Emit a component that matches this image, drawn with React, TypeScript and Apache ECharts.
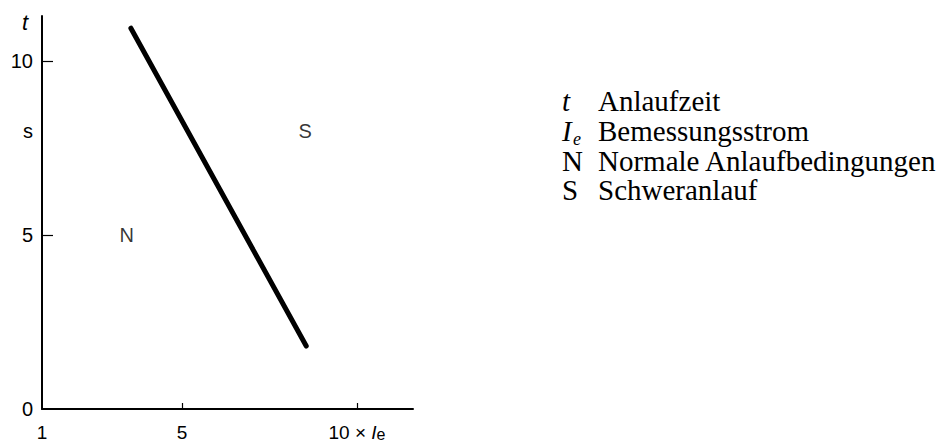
import React, { useEffect, useRef } from "react";
import * as echarts from "echarts";

// Current multiple (x × Ie) and start-up time t (s) of the boundary line
const boundaryCurrent = [3.54, 8.55];
const boundaryTime = [10.95, 1.81];

// Region markers
const regionNames = ["N", "S"];
const regionCurrent = [3.42, 8.52];
const regionTime = [5.0, 8.0];

// Axis tick values and labels
const xTickValues = [5, 10];
const xLabelValues = [1, 5, 10];
const yTickValues = [5, 10];
const yLabelValues = [0, 5, 8, 10];
const yUnitValue = 8;
const yUnitLabel = "s";

// Legend entries
const legendSymbols = ["t", "I", "N", "S"];
const legendSymbolItalic = [true, true, false, false];
const legendSubscripts = ["", "e", "", ""];
const legendTexts = [
  "Anlaufzeit",
  "Bemessungsstrom",
  "Normale Anlaufbedingungen",
  "Schweranlauf",
];

const SANS = "'Liberation Sans', Arial, sans-serif";
const SERIF = "'Liberation Serif', 'Times New Roman', serif";

export default function App() {
  const ref = useRef<HTMLDivElement>(null);

  useEffect(() => {
    if (!ref.current) return;
    const chart = echarts.init(ref.current, null, { renderer: "svg" });

    const LH = 27;
    const rowCenters = [100, 130, 160, 189];
    const legendGraphics: any[] = [];
    legendSymbols.forEach((sym, i) => {
      const cy = rowCenters[i];
      legendGraphics.push({
        type: "text",
        left: 562,
        top: cy - LH / 2,
        style: {
          text: sym,
          fill: "#000",
          fontFamily: SERIF,
          fontStyle: legendSymbolItalic[i] ? "italic" : "normal",
          fontSize: 29,
          lineHeight: LH,
        },
      });
      if (legendSubscripts[i]) {
        legendGraphics.push({
          type: "text",
          left: 573,
          top: cy,
          style: {
            text: legendSubscripts[i],
            fill: "#000",
            fontFamily: SERIF,
            fontStyle: "italic",
            fontSize: 18,
            lineHeight: 12,
          },
        });
      }
      legendGraphics.push({
        type: "text",
        left: 598,
        top: cy - LH / 2,
        style: {
          text: legendTexts[i],
          fill: "#000",
          fontFamily: SERIF,
          fontSize: 29,
          lineHeight: LH,
        },
      });
    });

    const option: any = {
      animation: false,
      backgroundColor: "#fff",
      grid: { left: 42, right: 531, top: 16, bottom: 35, containLabel: false, outerBoundsMode: "none" },
      xAxis: {
        type: "value",
        min: 1,
        max: 11.6,
        splitLine: { show: false },
        axisLine: { show: true, lineStyle: { color: "#000", width: 2 } },
        axisTick: {
          show: true,
          inside: true,
          length: 6,
          customValues: xTickValues,
          lineStyle: { color: "#000", width: 1.2 },
        },
        axisLabel: {
          customValues: xLabelValues,
          margin: 14,
          color: "#000",
          fontFamily: SANS,
          fontSize: 19,
          lineHeight: 18,
          formatter: (v: number) => (v === 10 ? "10 × {i|I}{s|e}" : String(v)),
          rich: {
            i: { fontFamily: SANS, fontStyle: "italic", fontSize: 19, lineHeight: 18, color: "#000" },
            s: { fontFamily: SANS, fontSize: 16, lineHeight: 12, color: "#000", padding: [4, 0, 0, 0] },
          },
        },
      },
      yAxis: {
        type: "value",
        min: 0,
        max: 11.3,
        name: "t",
        nameLocation: "end",
        nameGap: -6,
        nameTextStyle: {
          fontFamily: SANS,
          fontStyle: "italic",
          fontSize: 22,
          color: "#000",
          align: "right",
          verticalAlign: "middle",
          padding: [0, 14, 0, 0],
        },
        splitLine: { show: false },
        axisLine: { show: true, lineStyle: { color: "#000", width: 2 } },
        axisTick: {
          show: true,
          inside: true,
          length: 11,
          customValues: yTickValues,
          lineStyle: { color: "#000", width: 1.2 },
        },
        axisLabel: {
          customValues: yLabelValues,
          margin: 9,
          color: "#000",
          fontFamily: SANS,
          fontSize: 20,
          formatter: (v: number) => (v === yUnitValue ? yUnitLabel : String(v)),
        },
      },
      series: [
        {
          type: "line",
          data: boundaryCurrent.map((x, i) => [x, boundaryTime[i]]),
          symbol: "none",
          lineStyle: { color: "#000", width: 5, cap: "round" },
          silent: true,
        },
        {
          type: "scatter",
          data: regionCurrent.map((x, i) => ({ value: [x, regionTime[i]], name: regionNames[i] })),
          symbolSize: 0,
          silent: true,
          label: {
            show: true,
            position: "inside",
            formatter: (p: any) => p.name,
            color: "#000",
            fontFamily: SANS,
            fontSize: 20,
          },
        },
      ],
      graphic: legendGraphics,
    };

    chart.setOption(option);
    return () => chart.dispose();
  }, []);

  return (
    <div
      ref={ref}
      style={{ position: "fixed", left: 0, top: 0, width: 944, height: 444, background: "#fff" }}
    />
  );
}
